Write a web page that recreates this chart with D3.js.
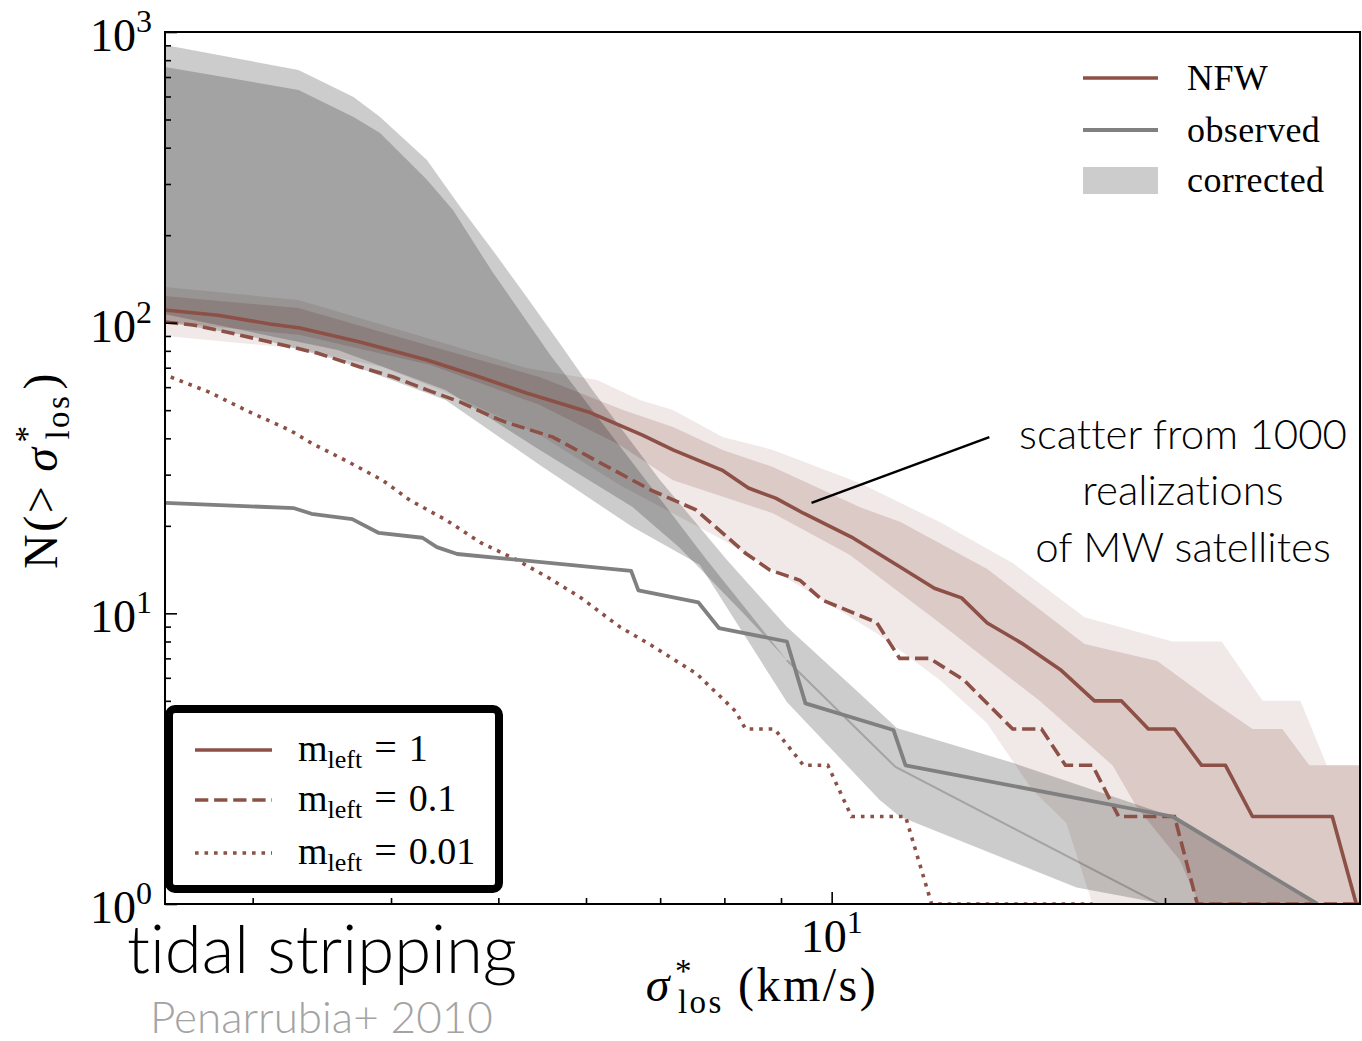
<!DOCTYPE html>
<html>
<head>
<meta charset="utf-8">
<script src="https://cdn.jsdelivr.net/npm/d3@7"></script>
<style>
  html, body { margin: 0; padding: 0; background: #fff; }
  svg { display: block; }
  .sans { font-variant-ligatures: none; font-feature-settings: "liga" 0; }
</style>
</head>
<body>
<svg id="chart" width="1362" height="1041"></svg>
<script>
// ---------------- data ----------------
// cumulative counts N(>sigma) against line-of-sight velocity dispersion (km/s)

// NFW, m_left = 1 (median of realizations)
const sigmaM1 = [2.50, 2.79, 3.11, 3.31, 3.75, 4.31, 4.81, 5.30, 6.03, 6.74, 7.19, 7.96, 8.41, 8.90, 9.43, 10.42, 11.54, 12.38, 13.10, 13.82, 14.84, 16.09, 17.27, 18.26, 19.32, 20.40, 21.58, 22.68, 23.99, 28.32, 29.77, 30.0];
const nM1     = [110.6, 106, 99, 95.8, 85.8, 74.4, 65, 57.3, 49.3, 41.1, 36.5, 31.1, 27, 24.9, 22.1, 18.3, 14.4, 12.2, 11.3, 9.26, 7.9, 6.4, 5, 5, 4, 4, 3, 3, 2, 2, 1, 1];

// m_left = 0.1
const sigmaM01 = [2.50, 2.65, 2.84, 3.11, 3.43, 3.75, 4.02, 4.31, 4.62, 4.94, 5.10, 5.60, 6.25, 6.86, 7.54, 7.92, 8.36, 8.79, 9.36, 9.81, 10.98, 11.52, 12.26, 13.16, 14.57, 15.47, 16.26, 17.20, 18.16, 20.40, 21.39, 30.0];
const nM01     = [100.5, 98.2, 92.9, 85.8, 78.6, 70.4, 65, 58.7, 53.3, 47.4, 45.2, 40.4, 32.2, 26.6, 22.7, 19.3, 16.1, 14.1, 13.0, 11.1, 9.3, 7, 7, 5.9, 4, 4, 3, 3, 2, 2, 1, 1];

// m_left = 0.01
const sigmaM001 = [2.53, 2.74, 2.98, 3.24, 3.39, 3.66, 3.93, 4.16, 4.48, 4.82, 5.19, 5.54, 5.92, 6.44, 6.84, 7.55, 8.19, 8.36, 8.88, 9.43, 9.92, 10.42, 11.66, 12.31, 17.2];
const nM001     = [65, 57.7, 49.3, 42.7, 38.5, 33.2, 28.7, 24.5, 21.0, 17.5, 15.3, 13.3, 11.4, 8.97, 7.85, 6.2, 4.6, 4, 4, 3, 3, 2, 2, 1, 1];

// observed Milky Way satellites
const sigmaObs = [2.50, 3.27, 3.39, 3.69, 3.90, 4.27, 4.40, 4.59, 6.59, 6.69, 7.58, 7.91, 9.11, 9.47, 11.37, 11.66, 20.31, 27.46];
const nObs     = [24.0, 23.0, 22.0, 21.1, 18.9, 18.2, 16.9, 16.0, 14.0, 12.0, 10.9, 8.9, 8.0, 4.9, 3.97, 3, 2, 1];

// scatter of the NFW realizations: outer and inner envelopes
const nfwOuterUpSigma = [2.50, 3.30, 4.31, 5.30, 6.14, 6.71, 7.19, 7.97, 8.85, 10.60, 12.52, 14.57, 16.92, 20.31, 22.5, 24.5, 26.5, 28.0, 30.0];
const nfwOuterUpN     = [132.7, 119.7, 88.6, 69.8, 63.5, 54.2, 50.1, 40.4, 36.5, 28.1, 20.6, 14.9, 9.7, 8, 8, 5, 5, 3, 3];
const nfwOuterLoSigma = [2.50, 3.27, 3.93, 4.48, 5.45, 6.44, 7.97, 9.49, 11.05, 12.52, 13.80, 15.18, 16.29, 17.20, 30.0];
const nfwOuterLoN     = [90, 81.8, 70.4, 57.7, 41.1, 27.6, 17.9, 12.0, 8.4, 5.9, 4.2, 2.47, 1.9, 1, 1];

const nfwInnerUpSigma = [2.50, 3.30, 4.31, 5.45, 6.48, 7.19, 7.97, 8.85, 10.60, 11.54, 13.82, 16.92, 19.68, 22.03, 23.99, 25.53, 27.0, 30.0];
const nfwInnerUpN     = [123.5, 112.3, 83.8, 65, 50.1, 43.8, 36.5, 31.9, 23.2, 20.6, 14.2, 7.85, 6.86, 5, 4, 4, 3, 3];
const nfwInnerLoSigma = [2.50, 3.31, 4.34, 5.45, 6.44, 7.19, 8.85, 10.38, 12.52, 14.57, 15.41, 17.93, 18.85, 20.61, 21.48, 30.0];
const nfwInnerLoN     = [100.5, 90.7, 71.5, 52.1, 37.9, 28.7, 22.1, 15.9, 9.26, 5.9, 5, 3, 2.16, 1.42, 1, 1];

// completeness-corrected counts: outer and inner envelopes
const corrOuterUpSigma = [2.50, 3.30, 3.70, 3.91, 4.31, 4.62, 4.94, 5.30, 5.68, 6.08, 7.00, 8.04, 9.11, 10.60, 11.45, 14.57, 20.31, 27.57];
const corrOuterUpN     = [902, 740, 598, 510, 363, 250, 178, 123, 85, 58.7, 28.7, 15.3, 9.0, 5.3, 4.03, 3.06, 2.0, 1];
const corrOuterLoSigma = [2.50, 2.98, 3.58, 4.48, 5.45, 6.61, 7.60, 9.11, 11.05, 11.52, 16.64, 19.98, 27.57];
const corrOuterLoN     = [100.5, 90, 74.4, 54.2, 32.4, 19.8, 14.7, 4.95, 2.28, 2.0, 1.14, 1, 1];

const corrInnerUpSigma = [2.50, 3.30, 3.70, 3.91, 4.31, 4.55, 4.94, 5.57, 7.71, 9.11, 11.42, 19.77];
const corrInnerUpN     = [758, 632, 510, 449, 310, 244, 149.4, 77.4, 15.3, 6.9, 2.96, 1];
const corrInnerLoSigma = [2.50, 3.58, 4.48, 5.45, 6.61, 7.29, 8.35, 9.11, 11.42, 19.77];
const corrInnerLoN     = [107, 80.5, 58.7, 36.5, 23.2, 16.8, 9.87, 6.9, 2.96, 1];

// axis ticks
const xMajorTicks = [10];
const xMinorTicks = [3, 4, 5, 6, 7, 8, 9, 20];
const yMajorTicks = [1, 10, 100, 1000];
const yTickExponents = ["0", "1", "2", "3"];
const xTickExponents = ["1"];
const yMinorTicks = [1, 10, 100].flatMap(d => [2, 3, 4, 5, 6, 7, 8, 9].map(k => d * k));

// annotation pointer (data coordinates: from text to curve)
const pointerSigma = [13.88, 9.59];
const pointerN     = [40.4, 24.0];

// legends
const topLegendLabels = ["NFW", "observed", "corrected"];
const bottomLegendValues = ["1", "0.1", "0.01"];

// ---------------- layout ----------------
const plot = { left: 165, right: 1360, top: 32, bottom: 904 };
const brown = "#8c5046";
const grayLine = "#808080";
const serif = "'Liberation Serif', 'Times New Roman', serif";
const sans = "Lato, 'Open Sans', sans-serif";

const svg = d3.select("#chart");

const x = d3.scaleLog().domain([2.5, 30]).range([plot.left, plot.right]);
const y = d3.scaleLog().domain([1, 1000]).range([plot.bottom, plot.top]);

svg.append("defs").append("clipPath").attr("id", "plotClip")
  .append("rect")
  .attr("x", plot.left).attr("y", plot.top)
  .attr("width", plot.right - plot.left).attr("height", plot.bottom - plot.top);

const dataLayer = svg.append("g").attr("clip-path", "url(#plotClip)");

const line = d3.line().x(d => x(d[0])).y(d => y(d[1]));
const band = (upS, upN, loS, loN) => {
  const pts = d3.zip(upS, upN).concat(d3.zip(loS, loN).reverse());
  return line(pts) + "Z";
};

// NFW scatter envelopes
dataLayer.append("path")
  .attr("d", band(nfwOuterUpSigma, nfwOuterUpN, nfwOuterLoSigma, nfwOuterLoN))
  .attr("fill", brown).attr("fill-opacity", 0.125);
dataLayer.append("path")
  .attr("d", band(nfwInnerUpSigma, nfwInnerUpN, nfwInnerLoSigma, nfwInnerLoN))
  .attr("fill", brown).attr("fill-opacity", 0.2);

// corrected-count envelopes
dataLayer.append("path")
  .attr("d", band(corrOuterUpSigma, corrOuterUpN, corrOuterLoSigma, corrOuterLoN))
  .attr("fill", "#000").attr("fill-opacity", 0.2);
dataLayer.append("path")
  .attr("d", band(corrInnerUpSigma, corrInnerUpN, corrInnerLoSigma, corrInnerLoN))
  .attr("fill", "#000").attr("fill-opacity", 0.2);

// where the inner envelope closes up it shows as a thin edge line
const innerLoKeys = new Set(d3.zip(corrInnerLoSigma, corrInnerLoN).map(d => d.join(",")));
const collapsed = d3.zip(corrInnerUpSigma, corrInnerUpN).filter(d => innerLoKeys.has(d.join(",")));
dataLayer.append("path")
  .attr("d", line(collapsed))
  .attr("fill", "none").attr("stroke", "#000").attr("stroke-opacity", 0.2).attr("stroke-width", 2);

// model curves
dataLayer.append("path")
  .attr("d", line(d3.zip(sigmaM001, nM001)))
  .attr("fill", "none").attr("stroke", brown).attr("stroke-width", 3.6)
  .attr("stroke-dasharray", "3.6,5.9");
dataLayer.append("path")
  .attr("d", line(d3.zip(sigmaM01, nM01)))
  .attr("fill", "none").attr("stroke", brown).attr("stroke-width", 3.6)
  .attr("stroke-dasharray", "13.3,5.8");
dataLayer.append("path")
  .attr("d", line(d3.zip(sigmaM1, nM1)))
  .attr("fill", "none").attr("stroke", brown).attr("stroke-width", 3.6)
  .attr("stroke-linejoin", "round");

// observed
dataLayer.append("path")
  .attr("d", line(d3.zip(sigmaObs, nObs)))
  .attr("fill", "none").attr("stroke", grayLine).attr("stroke-width", 3.8)
  .attr("stroke-linejoin", "round");

// ---------------- axes ----------------
const axisStyle = g => {
  g.select(".domain").remove();
  g.selectAll(".tick line").attr("stroke", "#000").attr("stroke-width", 1.6);
  g.selectAll(".tick text").remove();
};
svg.append("g").attr("transform", `translate(0,${plot.bottom})`)
  .call(d3.axisBottom(x).tickValues(xMinorTicks).tickSize(-6).tickFormat(""))
  .call(axisStyle);
svg.append("g").attr("transform", `translate(0,${plot.bottom})`)
  .call(d3.axisBottom(x).tickValues(xMajorTicks).tickSize(-12).tickFormat(""))
  .call(axisStyle);
svg.append("g").attr("transform", `translate(${plot.left},0)`)
  .call(d3.axisLeft(y).tickValues(yMinorTicks).tickSize(-6).tickFormat(""))
  .call(axisStyle);
svg.append("g").attr("transform", `translate(${plot.left},0)`)
  .call(d3.axisLeft(y).tickValues(yMajorTicks).tickSize(-12).tickFormat(""))
  .call(axisStyle);

// frame
svg.append("rect")
  .attr("x", plot.left).attr("y", plot.top)
  .attr("width", plot.right - plot.left).attr("height", plot.bottom - plot.top)
  .attr("fill", "none").attr("stroke", "#000").attr("stroke-width", 2);

// tick labels as powers of ten
yMajorTicks.forEach((v, i) => {
  const t = svg.append("text")
    .attr("x", plot.left - 13).attr("y", y(v) + 19)
    .attr("text-anchor", "end")
    .attr("font-family", serif).attr("font-size", 46).attr("fill", "#000");
  t.append("tspan").text("10");
  t.append("tspan").attr("dy", -19).attr("font-size", 32).text(yTickExponents[i]);
});
xMajorTicks.forEach((v, i) => {
  const t = svg.append("text")
    .attr("x", x(v)).attr("y", plot.bottom + 48)
    .attr("text-anchor", "middle")
    .attr("font-family", serif).attr("font-size", 46).attr("fill", "#000");
  t.append("tspan").text("10");
  t.append("tspan").attr("dy", -19).attr("font-size", 32).text(xTickExponents[i]);
});

// axis titles
function sigmaLos(t) {
  t.append("tspan").attr("font-style", "italic").text("σ");
  t.append("tspan").attr("dy", -19).attr("dx", 3).attr("font-size", 33).text("*");
  t.append("tspan").attr("dy", 31).attr("dx", -16).attr("font-size", 33).text("los");
}
{
  const t = svg.append("text")
    .attr("x", 762).attr("y", 1001)
    .attr("text-anchor", "middle")
    .attr("font-family", serif).attr("font-size", 48).attr("letter-spacing", 2.5).attr("fill", "#000");
  sigmaLos(t);
  t.append("tspan").attr("dy", -12).attr("dx", 14).text("(km/s)");
}
{
  const t = svg.append("text")
    .attr("transform", "translate(57,470) rotate(-90)")
    .attr("text-anchor", "middle")
    .attr("font-family", serif).attr("font-size", 48).attr("letter-spacing", 2.5).attr("fill", "#000");
  t.append("tspan").text("N(>");
  t.append("tspan").attr("dx", 12).attr("font-style", "italic").text("σ");
  t.append("tspan").attr("dy", -19).attr("dx", 3).attr("font-size", 33).text("*");
  t.append("tspan").attr("dy", 31).attr("dx", -16).attr("font-size", 33).text("los");
  t.append("tspan").attr("dy", -12).attr("dx", 4).text(")");
}

// ---------------- annotation ----------------
svg.append("path")
  .attr("d", line(d3.zip(pointerSigma, pointerN)))
  .attr("stroke", "#000").attr("stroke-width", 2.5).attr("fill", "none");

const note = svg.append("text").attr("class", "sans")
  .attr("font-family", sans).attr("font-size", 42).attr("font-weight", 300).attr("fill", "#000")
  .attr("text-anchor", "middle");
[["scatter from 1000", 449], ["realizations", 505], ["of MW satellites", 562]].forEach(([s, yy]) => {
  note.append("tspan").attr("x", 1183).attr("y", yy).text(s);
});

svg.append("text").attr("class", "sans")
  .attr("x", 127).attr("y", 973)
  .attr("font-family", sans).attr("font-size", 67).attr("font-weight", 300).attr("fill", "#000")
  .text("tidal stripping");
svg.append("text").attr("class", "sans")
  .attr("x", 150).attr("y", 1033)
  .attr("font-family", sans).attr("font-size", 44).attr("font-weight", 300).attr("fill", "#a3a3a3")
  .text("Penarrubia+ 2010");

// ---------------- legends ----------------
const topLeg = svg.append("g");
const topRows = [78, 130, 180];
topLeg.append("line").attr("x1", 1083).attr("x2", 1158).attr("y1", topRows[0]).attr("y2", topRows[0])
  .attr("stroke", brown).attr("stroke-width", 3.6);
topLeg.append("line").attr("x1", 1083).attr("x2", 1158).attr("y1", topRows[1]).attr("y2", topRows[1])
  .attr("stroke", grayLine).attr("stroke-width", 3.8);
topLeg.append("rect").attr("x", 1083).attr("y", topRows[2] - 13).attr("width", 75).attr("height", 27)
  .attr("fill", "#000").attr("fill-opacity", 0.2);
topLegendLabels.forEach((s, i) => {
  topLeg.append("text")
    .attr("x", 1187).attr("y", topRows[i] + 12)
    .attr("font-family", serif).attr("font-size", 36).attr("letter-spacing", 0.4).attr("fill", "#000")
    .text(s);
});

const botLeg = svg.append("g");
botLeg.append("rect")
  .attr("x", 169).attr("y", 709).attr("width", 330).attr("height", 180).attr("rx", 6)
  .attr("fill", "#fff").attr("stroke", "#000").attr("stroke-width", 8);
const botRows = [750, 800, 853];
const botDash = [null, "13.3,5.8", "3.6,5.9"];
bottomLegendValues.forEach((v, i) => {
  const l = botLeg.append("line")
    .attr("x1", 195).attr("x2", 272).attr("y1", botRows[i]).attr("y2", botRows[i])
    .attr("stroke", brown).attr("stroke-width", 3.6);
  if (botDash[i]) l.attr("stroke-dasharray", botDash[i]);
  const t = botLeg.append("text")
    .attr("x", 298).attr("y", botRows[i] + 11)
    .attr("font-family", serif).attr("font-size", 38).attr("fill", "#000");
  t.append("tspan").text("m");
  t.append("tspan").attr("dy", 7).attr("font-size", 26).text("left");
  t.append("tspan").attr("dy", -7).attr("dx", 12).attr("font-size", 40).text("=");
  t.append("tspan").attr("dx", 12).text(v);
});
</script>
</body>
</html>
